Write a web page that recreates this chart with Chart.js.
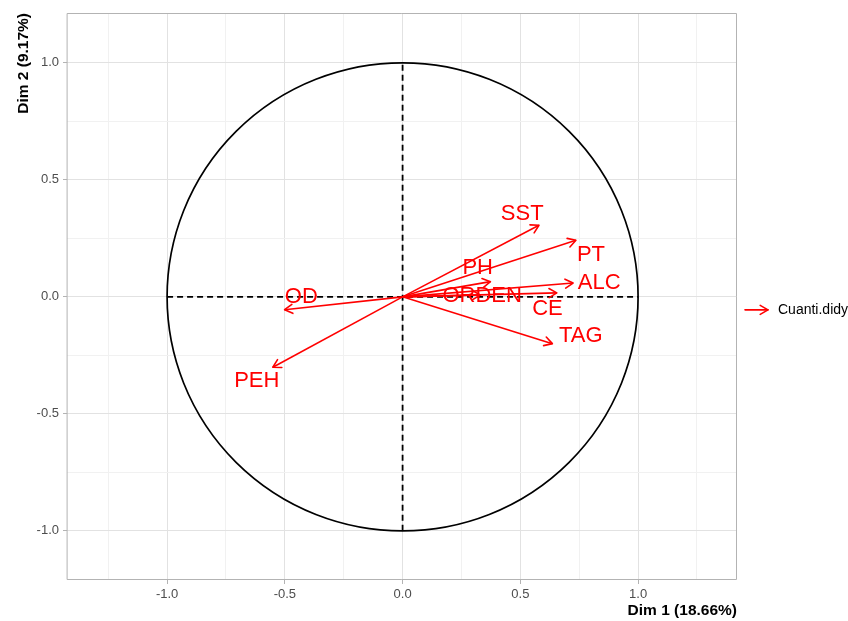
<!DOCTYPE html>
<html>
<head>
<meta charset="utf-8">
<script src="https://cdn.jsdelivr.net/npm/chart.js@4"></script>
<style>
  html, body { margin: 0; padding: 0; background: #fff; }
  #wrap { width: 848px; height: 621px; }
</style>
</head>
<body>
<div id="wrap"><canvas id="grafico"></canvas></div>
<script>
// variables y coordenadas (Dim 1, Dim 2)
var variables = ['SST', 'PT', 'PH', 'ALC', 'ORDEN', 'CE', 'TAG', 'OD', 'PEH'];
var dim1 = [0.579, 0.736, 0.373, 0.724, 0.33, 0.655, 0.636, -0.501, -0.551];
var dim2 = [0.306, 0.242, 0.065, 0.059, 0.008, 0.017, -0.200, -0.055, -0.301];
// donde quedan las etiquetas (repel)
var etiquetaX = [0.508, 0.800, 0.319, 0.835, 0.338, 0.615, 0.757, -0.43, -0.619];
var etiquetaY = [0.356, 0.178, 0.125, 0.059, 0.002, -0.051, -0.165, 0.0, -0.358];

var ticksX = [-1.25, -1.0, -0.75, -0.5, -0.25, 0.0, 0.25, 0.5, 0.75, 1.0, 1.25];
var ticksY = [-1.0, -0.75, -0.5, -0.25, 0.0, 0.25, 0.5, 0.75, 1.0];
var limitesX = [-1.425, 1.42];
var limitesY = [-1.21, 1.213];
var tituloX = 'Dim 1 (18.66%)';
var tituloY = 'Dim 2 (9.17%)';
var leyenda = 'Cuanti.didy';

var ROJO = '#ff0000';
var FUENTE = '"Liberation Sans", Arial, sans-serif';

function esMayor(v) {
    return Math.abs(Math.round(v * 2) - v * 2) < 1e-9;
}

function flecha(ctx, x0, y0, x1, y1) {
    var ang = Math.atan2(y1 - y0, x1 - x0);
    var largo = 9;
    ctx.beginPath();
    ctx.moveTo(x1 - largo * Math.cos(ang - Math.PI / 6), y1 - largo * Math.sin(ang - Math.PI / 6));
    ctx.lineTo(x1, y1);
    ctx.lineTo(x1 - largo * Math.cos(ang + Math.PI / 6), y1 - largo * Math.sin(ang + Math.PI / 6));
    ctx.stroke();
}

var pluginFondo = {
    id: 'fondo',
    beforeDatasetsDraw: function(chart) {
        var ctx = chart.ctx;
        var sx = chart.scales.x, sy = chart.scales.y;
        var cx = sx.getPixelForValue(0), cy = sy.getPixelForValue(0);
        var rx = sx.getPixelForValue(1) - cx;
        var ry = cy - sy.getPixelForValue(1);
        ctx.save();
        // circulo de correlaciones
        ctx.strokeStyle = '#000';
        ctx.lineWidth = 1.7;
        ctx.beginPath();
        ctx.ellipse(cx, cy, rx, ry, 0, 0, Math.PI * 2);
        ctx.stroke();
        // ejes punteados
        ctx.setLineDash([6, 4]);
        ctx.lineWidth = 1.8;
        ctx.beginPath();
        ctx.moveTo(sx.getPixelForValue(-1), cy);
        ctx.lineTo(sx.getPixelForValue(1), cy);
        ctx.moveTo(cx, sy.getPixelForValue(-1));
        ctx.lineTo(cx, sy.getPixelForValue(1));
        ctx.stroke();
        ctx.restore();
    },
    afterDatasetsDraw: function(chart) {
        var ctx = chart.ctx;
        var sx = chart.scales.x, sy = chart.scales.y;
        var area = chart.chartArea;
        ctx.save();
        ctx.strokeStyle = ROJO;
        ctx.lineWidth = 1.6;
        ctx.lineCap = 'round';
        ctx.lineJoin = 'round';
        variables.forEach(function(v, i) {
            var meta = chart.getDatasetMeta(i);
            var p0 = meta.data[0], p1 = meta.data[1];
            flecha(ctx, p0.x, p0.y, p1.x, p1.y);
        });
        // etiquetas
        ctx.fillStyle = ROJO;
        ctx.font = '22px ' + FUENTE;
        ctx.textAlign = 'center';
        ctx.textBaseline = 'middle';
        variables.forEach(function(v, i) {
            ctx.fillText(v, sx.getPixelForValue(etiquetaX[i]), sy.getPixelForValue(etiquetaY[i]));
        });
        // borde del panel
        ctx.strokeStyle = '#b3b3b3';
        ctx.lineWidth = 1;
        ctx.strokeRect(area.left + 0.5, area.top + 0.5, area.right - area.left - 1, area.bottom - area.top - 1);
        // leyenda
        var ly = sy.getPixelForValue(0) + 13;
        var lx = area.right + 8;
        ctx.strokeStyle = ROJO;
        ctx.lineWidth = 1.6;
        ctx.beginPath();
        ctx.moveTo(lx, ly);
        ctx.lineTo(lx + 23, ly);
        ctx.stroke();
        flecha(ctx, lx, ly, lx + 23, ly);
        ctx.fillStyle = '#000';
        ctx.font = '14px ' + FUENTE;
        ctx.textAlign = 'left';
        ctx.fillText(leyenda, lx + 33, ly);
        ctx.restore();
    }
};

var datasets = variables.map(function(v, i) {
    return {
        label: v,
        data: [{ x: 0, y: 0 }, { x: dim1[i], y: dim2[i] }],
        showLine: true,
        borderColor: ROJO,
        borderWidth: 1.6,
        pointRadius: 0,
        pointHoverRadius: 0
    };
});

function opcionesEje(lim, ticks, titulo, horizontal) {
    return {
        type: 'linear',
        min: lim[0],
        max: lim[1],
        afterBuildTicks: function(scale) {
            scale.ticks = ticks.map(function(t) { return { value: t }; });
        },
        afterFit: function(scale) {
            if (horizontal) scale.height = 41; else scale.width = 67;
        },
        border: { display: false },
        grid: {
            color: function(c) { return esMayor(c.tick.value) ? '#e2e2e2' : '#f1f1f1'; },
            lineWidth: 1,
            drawTicks: true,
            tickLength: 4,
            tickColor: function(c) { return esMayor(c.tick.value) ? '#b3b3b3' : 'rgba(0,0,0,0)'; }
        },
        ticks: {
            color: '#4d4d4d',
            font: { family: FUENTE, size: 13 },
            padding: horizontal ? 3 : 4,
            maxRotation: 0,
            autoSkip: false,
            callback: function(v) { return esMayor(v) ? v.toFixed(1) : ''; }
        },
        title: {
            display: true,
            text: titulo,
            align: 'end',
            color: '#000',
            font: { family: FUENTE, size: 15.5, weight: 'bold' },
            padding: horizontal ? { top: 0, bottom: 1 } : { top: 14, bottom: 0 }
        }
    };
}

new Chart(document.getElementById('grafico'), {
    type: 'scatter',
    data: { datasets: datasets },
    options: {
        responsive: true,
        maintainAspectRatio: false,
        animation: false,
        layout: { padding: { top: 13, right: 111, left: 0, bottom: 0 } },
        plugins: {
            legend: { display: false },
            tooltip: { enabled: false }
        },
        scales: {
            x: opcionesEje(limitesX, ticksX, tituloX, true),
            y: opcionesEje(limitesY, ticksY, tituloY, false)
        }
    },
    plugins: [pluginFondo]
});
</script>
</body>
</html>
